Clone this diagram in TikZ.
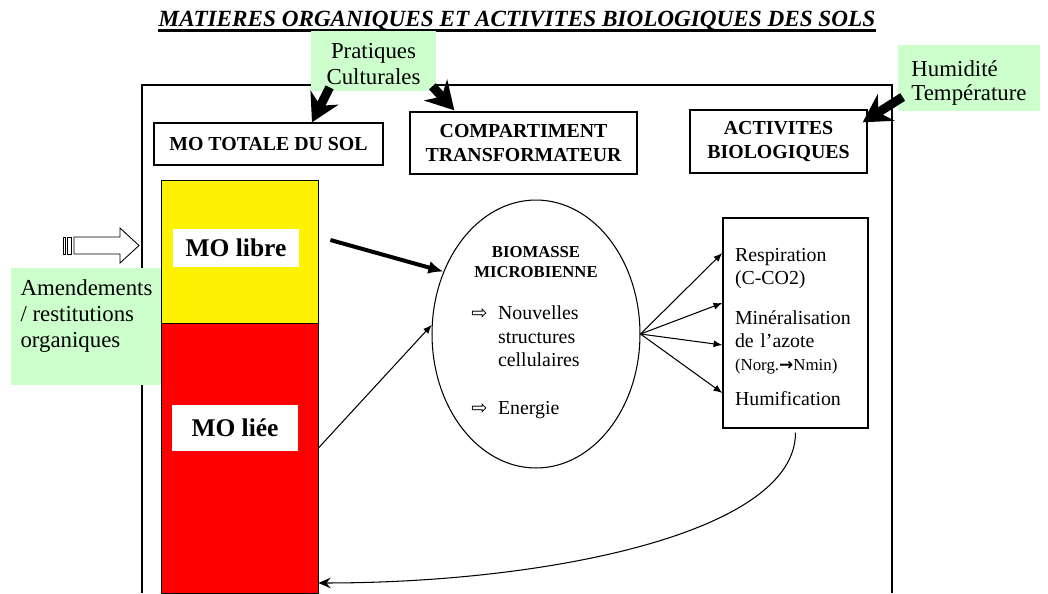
\documentclass[tikz,border=0pt]{standalone}
\usepackage{fontspec}
\setmainfont{Liberation Serif}
\newfontfamily\symbfont{DejaVu Sans}
\usetikzlibrary{shapes.geometric, arrows.meta, positioning}
\definecolor{vertpale}{HTML}{CCFFCC}

\begin{document}
\begin{tikzpicture}[x=0.02cm, y=-0.02cm]
        \def\colorfacteur{vertpale}
        \def\colorlibre{yellow}
        \def\colorliee{red}
        \tikzset{facteur/.style={
                fill=\colorfacteur,
                align=left,
                inner sep=0pt,
                font=\fontsize{13}{14.8}\selectfont
        }}
        \tikzset{compartiment/.style={draw,
                align=center,
                line width=0.8pt,
                font=\bfseries\fontsize{11.3}{13.4}\selectfont
        }}
        \tikzset{colonne/.style={draw,
                line width=0.5pt,
                minimum width=3.14cm,
                inner sep=0pt
        }}
        \tikzset{etiquette/.style={fill=white,
                inner sep=0pt,
                font=\bfseries\fontsize{14.5}{17}\selectfont
        }}
        \tikzset{connector/.style={-{Latex[length=5pt,width=4pt]}, line width=0.6pt}}
        \tikzset{facteurfleche/.style={line width=0.18cm, -{Stealth[length=0.55cm,width=0.62cm]}}}

        \useasboundingbox (0,0) rectangle (1048,593);

        % cadre
        \draw[line width=0.6pt] (142,593) -- (142,85) -- (892,85) -- (892,593);

        \node[anchor=base, inner sep=0pt, font=\bfseries\itshape\fontsize{13.2}{15}\selectfont] (titre) at (517,26) {MATIERES ORGANIQUES ET ACTIVITES BIOLOGIQUES DES SOLS};
        \draw[line width=1.6pt] (titre.south west) -- (titre.south east);

        % facteurs
        \node[facteur, align=center, minimum width=2.5cm, minimum height=1.2cm] (pratiques) at (373.5,61) {\rule{0pt}{12.2pt}Pratiques\\Culturales};
        \node[facteur, minimum width=2.84cm, minimum height=1.32cm, font=\fontsize{13}{13.8}\selectfont] (climat) at (969,78) {\rule{0pt}{14.5pt}Humidité\\Température};
        \node[facteur, minimum width=3.02cm, minimum height=2.34cm] (apports) at (86.5,326.5) {Amendements\\/ restitutions\\organiques\\ \mbox{}};

        \node[compartiment, minimum width=4.58cm, minimum height=0.84cm] (mototal) at (268.5,144) {MO TOTALE DU SOL};
        \node[compartiment, minimum width=4.54cm, minimum height=1.24cm] (transfo) at (523.5,143) {COMPARTIMENT\\TRANSFORMATEUR};
        \node[compartiment, minimum width=3.54cm, minimum height=1.26cm] (activites) at (778.5,141.5) {ACTIVITES\\BIOLOGIQUES};

        % colonne MO
        \node[colonne, fill=\colorlibre, minimum height=2.86cm] (libre) at (239.5,251.5) {};
        \node[colonne, fill=\colorliee, minimum height=5.4cm] (liee) at (239.5,458) {};
        \node[etiquette, minimum width=2.52cm, minimum height=0.76cm] (molibre) at (236,248) {MO libre};
        \node[etiquette, minimum width=2.52cm, minimum height=0.92cm] (moliee) at (235,428) {MO liée};

        % apport
        \draw[line width=0.5pt, fill=white] (74,237) -- (120,237) -- (120,228) -- (139,245.5) -- (120,263) -- (120,254) -- (74,254) -- cycle;
        \draw[line width=0.5pt] (63,237) rectangle (65,254) (67,237) rectangle (71,254);

        % biomasse
        \node[ellipse, draw, line width=0.6pt, minimum width=4.16cm, minimum height=5.36cm, inner sep=0pt] (biomasse) at (536,334) {};
        \node[align=center, font=\bfseries\fontsize{9.5}{11.4}\selectfont] (biotitre) at (536,262) {BIOMASSE\\MICROBIENNE};
        \node[anchor=north west, inner sep=0pt, font=\fontsize{11.3}{13.4}\selectfont] (produits) at (471,303) {%
                \begin{tabular}{@{}l@{\hspace{6pt}}l@{}}
                        {\symbfont\fontsize{11}{11}\selectfont ⇨} & Nouvelles\\
                         & structures\\
                         & cellulaires\\[13.4pt]
                        {\symbfont\fontsize{11}{11}\selectfont ⇨} & Energie
                \end{tabular}};

        \node[draw, line width=0.8pt, minimum width=2.9cm, minimum height=4.2cm, text width=2.42cm, inner xsep=0.24cm, align=left, font=\fontsize{11.3}{13.1}\selectfont] (processus) at (795.5,323) {\rule{0pt}{12.2pt}Respiration\\(C-CO2)\\[9.7pt]Minéralisation\\de l’azote\\{\fontsize{9.6}{10}\selectfont (Norg.{\symbfont\bfseries →}Nmin)}\\[7pt]Humification};

        % fleches
        \draw[facteurfleche] ([xshift=0.38cm,yshift=0.08cm]pratiques.south west) -- ([xshift=0.87cm]mototal.north);
        \draw[facteurfleche] ([xshift=-0.08cm,yshift=0.1cm]pratiques.south east) -- ([xshift=0.9cm,yshift=0.02cm]transfo.north west);
        \draw[facteurfleche] ([xshift=0.1cm,yshift=-0.38cm]climat.west) -- ([xshift=-0.1cm,yshift=-0.26cm]activites.north east);

        \draw[line width=0.08cm, -{Latex[length=0.3cm,width=0.26cm]}] ([xshift=0.24cm,yshift=0.23cm]libre.east) -- (biomasse.146);
        \draw[connector] ([yshift=0.2cm]liee.east) -- (biomasse.175);

        \draw[connector] (biomasse.east) -- ([yshift=1.4cm]processus.west);
        \draw[connector] (biomasse.east) -- ([yshift=0.4cm]processus.west);
        \draw[connector] (biomasse.east) -- ([yshift=-0.44cm]processus.west);
        \draw[connector] (biomasse.east) -- ([yshift=-1.4cm]processus.west);

        \draw[line width=0.6pt, -{Stealth[length=7pt,width=6pt,inset=2.5pt]}] ([yshift=-0.08cm]processus.south) .. controls +(0,-2cm) and +(4.6cm,0) .. ([yshift=-2.5cm]liee.east);
\end{tikzpicture}
\end{document}
